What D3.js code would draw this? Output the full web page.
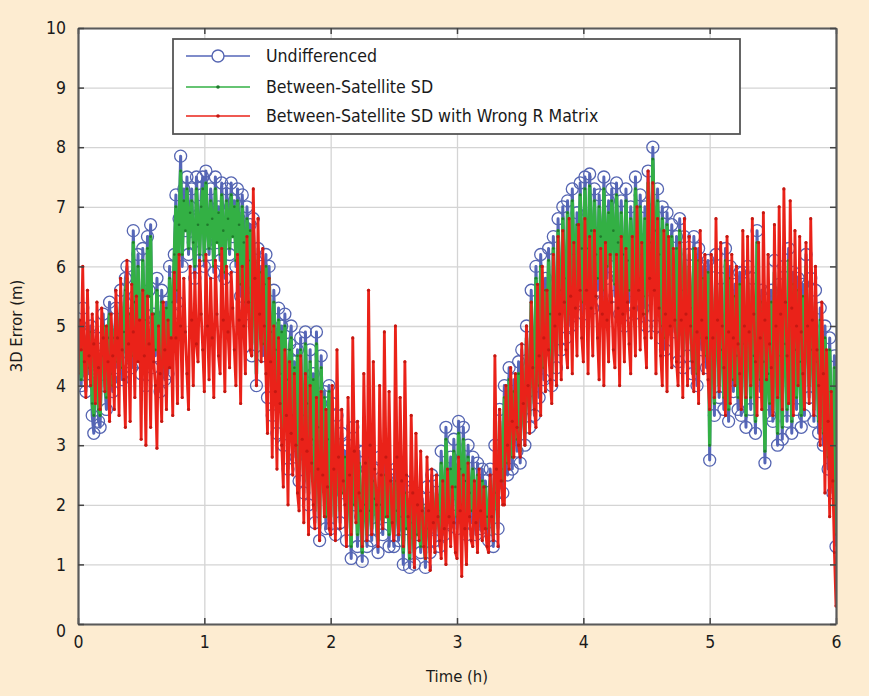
<!doctype html>
<html>
<head>
    <title>3D Error</title>
    <script src='https://d3js.org/d3.v7.min.js'></script>
    <style>
        body { margin: 0; background: #fdecd1; }
        text { font-family: "DejaVu Sans Condensed", "DejaVu Sans", sans-serif; fill: #1a1a1a; }
    </style>
</head>
<body>
<svg></svg>
<script>

    // samples are evenly spread over the 6 hours
    var timeSpan = 6;
    var xTicks = [0, 1, 2, 3, 4, 5, 6];
    var yTicks = [0, 1, 2, 3, 4, 5, 6, 7, 8, 9, 10];
    var seriesNames = ['Undifferenced', 'Between-Satellite SD', 'Between-Satellite SD with Wrong R Matrix'];

    // Undifferenced 3D error (m), one row = 1/8 h
    var undiff = [
        4.3, 4.8, 4.0, 5.3, 4.4, 3.9, 4.9, 4.2, 5.0, 3.5,
        3.2, 4.1, 4.8, 3.4, 3.3, 4.5, 5.2, 4.0, 3.6, 4.9,
        5.4, 4.1, 3.9, 4.8, 5.3, 4.3, 4.6, 5.6, 4.1, 4.9,
        5.8, 6.0, 4.4, 5.2, 4.3, 6.6, 5.5, 4.4, 6.2, 5.0,
        4.2, 6.3, 5.1, 4.0, 6.5, 5.6, 6.7, 4.3, 5.2, 4.5,
        5.8, 4.8, 3.9, 5.6, 4.6, 4.1, 5.4, 4.2, 6.0, 4.7,
        5.2, 6.2, 7.2, 5.4, 6.8, 7.85, 6.0, 7.3, 6.6, 7.5,
        6.2, 7.0, 7.3, 6.4, 5.8, 7.5, 6.8, 6.1, 7.2, 7.5,
        6.0, 7.6, 6.7, 6.2, 7.3, 6.9, 5.9, 7.5, 6.4, 7.0,
        6.1, 7.4, 6.6, 5.8, 7.3, 6.9, 6.2, 7.4, 6.5, 7.1,
        6.0, 7.3, 6.8, 5.5, 7.2, 6.5, 5.2, 7.0, 6.2, 6.7,
        4.5, 6.8, 5.6, 4.0, 6.3, 5.2, 6.0, 4.5, 5.8, 6.2,
        3.8, 6.0, 4.9, 3.5, 5.6, 4.6, 3.2, 5.3, 4.2, 5.0,
        3.0, 5.2, 4.1, 2.6, 4.7, 5.0, 3.4, 4.4, 2.8, 4.6,
        2.4, 4.8, 3.5, 2.2, 4.9, 3.8, 2.0, 4.6, 3.1, 4.2,
        1.7, 4.9, 3.4, 1.4, 4.5, 2.8, 3.9, 1.6, 3.2, 4.0,
        1.6, 3.7, 2.5, 1.5, 3.5, 2.8, 1.7, 3.2, 2.2, 2.9,
        1.4, 3.0, 2.4, 1.1, 3.3, 2.0, 2.6, 1.3, 2.9, 1.8,
        1.05, 2.9, 2.1, 1.3, 3.0, 1.9, 1.4, 2.6, 2.2, 1.6,
        1.2, 2.8, 2.0, 1.5, 2.7, 1.8, 2.4, 1.3, 2.5, 2.0,
        1.3, 2.6, 1.9, 1.4, 2.5, 1.8, 1.0, 2.4, 1.6, 2.0,
        0.95, 2.3, 1.7, 1.0, 2.2, 1.5, 1.9, 1.2, 2.1, 1.6,
        0.95, 2.3, 1.6, 1.2, 2.5, 1.8, 1.4, 2.4, 1.9, 1.3,
        2.9, 2.1, 1.5, 3.3, 2.4, 1.7, 2.8, 2.0, 3.1, 2.3,
        1.6, 3.4, 2.6, 1.8, 3.3, 2.4, 1.5, 3.0, 2.2, 1.7,
        2.8, 2.1, 1.5, 2.7, 2.0, 1.6, 2.6, 1.9, 2.4, 1.7,
        1.4, 2.6, 2.0, 1.3, 3.0, 2.2, 1.6, 3.6, 2.6, 2.2,
        4.0, 3.0, 2.5, 4.3, 3.3, 2.6, 4.1, 3.4, 2.9, 4.4,
        2.7, 4.6, 3.6, 3.0, 5.0, 3.9, 3.3, 5.6, 4.3, 3.5,
        6.0, 4.8, 3.8, 6.2, 5.0, 4.1, 5.8, 4.6, 6.3, 5.2,
        4.0, 6.5, 5.3, 4.3, 6.8, 5.6, 4.6, 7.0, 5.8, 4.8,
        7.1, 6.0, 5.0, 7.3, 6.2, 5.4, 6.9, 5.8, 7.4, 6.3,
        5.2, 7.5, 6.3, 5.5, 7.55, 6.6, 5.3, 7.3, 6.2, 5.6,
        7.2, 6.5, 5.4, 7.5, 6.4, 5.8, 7.1, 6.0, 7.3, 6.6,
        5.5, 7.4, 6.4, 5.2, 7.1, 6.2, 5.0, 7.3, 6.0, 5.4,
        7.0, 6.3, 5.2, 7.5, 6.5, 5.6, 7.2, 6.1, 5.3, 7.0,
        5.0, 7.6, 6.4, 5.6, 8.0, 6.6, 5.0, 7.3, 6.2, 4.8,
        7.0, 6.0, 4.6, 6.9, 5.8, 5.1, 6.7, 5.6, 4.9, 6.5,
        4.4, 6.8, 5.6, 4.3, 6.5, 5.4, 4.5, 6.2, 5.3, 4.2,
        6.5, 5.5, 4.0, 6.3, 5.2, 4.6, 6.0, 5.0, 4.3, 6.1,
        2.75, 6.0, 4.8, 3.5, 6.2, 5.0, 3.8, 5.8, 4.6, 3.6,
        6.3, 5.1, 3.4, 6.0, 4.8, 3.9, 5.7, 4.5, 3.6, 5.9,
        3.5, 5.9, 4.7, 3.3, 6.0, 4.8, 3.6, 5.8, 4.5, 3.2,
        6.6, 5.0, 3.9, 5.6, 4.4, 2.7, 5.2, 4.2, 3.5, 5.6,
        3.4, 6.1, 4.8, 3.0, 5.7, 4.5, 3.1, 6.0, 4.7, 3.4,
        6.3, 5.0, 3.2, 5.9, 4.6, 3.6, 5.8, 4.4, 3.3, 5.7,
        3.5, 6.2, 4.9, 3.8, 5.8, 4.6, 3.4, 5.6, 4.4, 3.2,
        5.3, 4.2, 3.0, 5.0, 3.8, 2.6, 4.8, 3.4, 2.2, 4.5,
        1.3
    ];

    // Between-satellite single difference
    var sd = [
        4.4, 4.7, 4.1, 5.1, 4.5, 4.0, 4.8, 4.3, 4.9, 3.7,
        3.5, 4.2, 4.7, 3.6, 3.5, 4.5, 5.0, 4.1, 3.8, 4.8,
        5.2, 4.2, 4.0, 4.8, 5.1, 4.4, 4.7, 5.4, 4.3, 4.9,
        5.6, 5.8, 4.5, 5.2, 4.5, 6.4, 5.4, 4.6, 6.0, 5.0,
        4.4, 6.1, 5.1, 4.2, 6.3, 5.5, 6.5, 4.5, 5.2, 4.6,
        5.6, 4.8, 4.1, 5.4, 4.6, 4.3, 5.3, 4.4, 5.8, 4.8,
        5.4, 6.2, 7.0, 5.6, 6.7, 7.6, 6.2, 7.1, 6.6, 7.3,
        6.3, 6.9, 7.1, 6.4, 6.0, 7.3, 6.7, 6.2, 7.0, 7.3,
        6.1, 7.4, 6.7, 6.3, 7.1, 6.8, 6.0, 7.3, 6.4, 6.9,
        6.2, 7.2, 6.6, 5.9, 7.1, 6.8, 6.3, 7.2, 6.5, 7.0,
        6.1, 7.1, 6.7, 5.7, 7.0, 6.4, 5.4, 6.8, 6.1, 6.6,
        4.7, 6.6, 5.6, 4.2, 6.1, 5.2, 5.9, 4.7, 5.7, 6.0,
        4.0, 5.8, 4.9, 3.7, 5.4, 4.6, 3.4, 5.1, 4.2, 4.9,
        3.2, 5.0, 4.1, 2.8, 4.6, 4.8, 3.5, 4.3, 3.0, 4.5,
        2.6, 4.6, 3.5, 2.4, 4.7, 3.7, 2.2, 4.4, 3.1, 4.1,
        1.9, 4.7, 3.3, 1.6, 4.3, 2.8, 3.8, 1.8, 3.1, 3.9,
        1.8, 3.5, 2.5, 1.7, 3.3, 2.7, 1.9, 3.0, 2.2, 2.8,
        1.6, 2.8, 2.3, 1.3, 3.1, 2.0, 2.5, 1.5, 2.7, 1.9,
        1.2, 2.7, 2.0, 1.5, 2.8, 1.9, 1.6, 2.4, 2.1, 1.7,
        1.4, 2.6, 2.0, 1.7, 2.5, 1.8, 2.3, 1.5, 2.4, 2.0,
        1.5, 2.4, 1.9, 1.6, 2.3, 1.8, 1.2, 2.2, 1.6, 1.9,
        1.1, 2.1, 1.7, 1.2, 2.0, 1.5, 1.8, 1.3, 2.0, 1.6,
        1.1, 2.1, 1.6, 1.4, 2.3, 1.8, 1.6, 2.2, 1.9, 1.5,
        2.7, 2.1, 1.7, 3.1, 2.4, 1.9, 2.6, 2.0, 2.9, 2.3,
        1.8, 3.2, 2.6, 2.0, 3.1, 2.4, 1.7, 2.8, 2.2, 1.9,
        2.6, 2.1, 1.7, 2.5, 2.0, 1.8, 2.4, 1.9, 2.3, 1.8,
        1.6, 2.4, 2.0, 1.5, 2.8, 2.2, 1.8, 3.4, 2.6, 2.4,
        3.8, 3.0, 2.7, 4.1, 3.3, 2.8, 3.9, 3.4, 3.1, 4.2,
        2.9, 4.4, 3.6, 3.2, 4.8, 3.9, 3.5, 5.4, 4.3, 3.7,
        5.8, 4.8, 4.0, 6.0, 5.0, 4.3, 5.6, 4.6, 6.1, 5.2,
        4.2, 6.3, 5.3, 4.5, 6.6, 5.6, 4.8, 6.8, 5.8, 5.0,
        6.9, 6.0, 5.2, 7.1, 6.2, 5.6, 6.7, 5.9, 7.2, 6.3,
        5.4, 7.3, 6.3, 5.7, 7.35, 6.6, 5.5, 7.1, 6.2, 5.8,
        7.0, 6.5, 5.6, 7.3, 6.4, 6.0, 6.9, 6.1, 7.1, 6.6,
        5.7, 7.2, 6.4, 5.4, 6.9, 6.2, 5.2, 7.1, 6.1, 5.6,
        6.8, 6.3, 5.4, 7.3, 6.5, 5.8, 7.0, 6.2, 5.5, 6.8,
        5.2, 7.4, 6.4, 5.8, 7.8, 6.6, 5.2, 7.1, 6.2, 5.0,
        6.8, 6.0, 4.8, 6.7, 5.8, 5.3, 6.5, 5.6, 5.1, 6.3,
        4.6, 6.6, 5.6, 4.5, 6.3, 5.4, 4.7, 6.0, 5.3, 4.4,
        6.3, 5.5, 4.2, 6.1, 5.2, 4.8, 5.8, 5.0, 4.5, 5.9,
        3.0, 5.8, 4.8, 3.7, 6.0, 5.0, 4.0, 5.6, 4.6, 3.8,
        6.1, 5.1, 3.6, 5.8, 4.8, 4.1, 5.5, 4.5, 3.8, 5.7,
        3.7, 5.7, 4.7, 3.5, 5.8, 4.8, 3.8, 5.6, 4.5, 3.4,
        6.4, 5.0, 4.1, 5.4, 4.4, 2.9, 5.0, 4.2, 3.7, 5.4,
        3.6, 5.9, 4.8, 3.2, 5.5, 4.5, 3.3, 5.8, 4.7, 3.6,
        6.1, 5.0, 3.4, 5.7, 4.6, 3.8, 5.6, 4.4, 3.5, 5.5,
        3.7, 6.0, 4.9, 4.0, 5.6, 4.6, 3.6, 5.4, 4.4, 3.4,
        5.1, 4.2, 3.2, 4.8, 3.8, 2.8, 4.6, 3.4, 2.4, 4.3,
        1.5
    ];

    // Between-satellite SD with wrong R matrix
    var sdWrongR = [
        4.2, 5.1, 4.6, 6.0, 4.4, 3.8, 5.6, 4.5, 4.0, 5.2,
        4.7, 3.7, 5.4, 4.3, 3.6, 5.3, 4.8, 3.9, 5.0, 4.4,
        3.4, 5.2, 4.5, 3.6, 5.6, 4.8, 3.5, 5.8, 4.6, 4.1,
        3.3, 6.1, 4.7, 3.4, 5.7, 4.9, 3.8, 5.5, 4.4, 5.1,
        3.1, 5.6, 4.5, 3.0, 5.5, 4.7, 3.3, 5.2, 4.4, 4.0,
        2.95, 5.0, 4.2, 3.4, 5.4, 4.6, 3.6, 5.1, 4.3, 4.8,
        3.5, 5.9, 4.8, 3.7, 6.2, 5.0, 3.8, 5.8, 4.9, 4.2,
        3.6, 6.0, 5.1, 4.0, 5.9, 4.7, 4.4, 6.1, 5.2, 4.6,
        3.9, 6.2, 5.0, 4.1, 5.8, 4.8, 3.8, 6.1, 5.2, 4.5,
        4.2, 6.3, 5.1, 3.9, 6.0, 4.9, 4.3, 5.9, 5.3, 4.6,
        4.0, 6.2, 5.1, 3.7, 6.0, 5.0, 4.2, 6.5, 5.4, 4.6,
        4.5, 7.3, 5.8, 4.0, 6.8, 5.2, 4.4, 6.3, 5.0, 4.2,
        3.2, 5.8, 4.4, 2.8, 5.0, 3.9, 2.6, 4.8, 3.7, 3.0,
        2.3, 4.6, 3.5, 2.0, 4.4, 3.2, 2.5, 4.2, 3.0, 2.2,
        1.9, 4.5, 3.1, 1.7, 4.2, 2.9, 1.5, 4.0, 2.7, 2.0,
        1.6, 3.8, 2.6, 1.4, 3.9, 2.5, 1.8, 3.6, 2.3, 1.6,
        1.5, 4.0, 2.6, 1.4, 4.6, 2.8, 1.6, 3.6, 2.4, 2.0,
        1.3, 3.8, 2.5, 1.5, 4.8, 2.9, 1.7, 3.4, 2.2, 1.9,
        1.3, 4.2, 2.7, 1.4, 5.6, 3.0, 1.5, 4.4, 2.6, 2.0,
        1.3, 4.0, 2.5, 1.6, 4.9, 2.8, 1.8, 3.9, 2.4, 1.7,
        1.4, 5.0, 2.8, 1.5, 3.8, 2.4, 1.3, 4.4, 2.5, 1.8,
        1.2, 3.5, 2.2, 0.95, 3.2, 2.0, 1.4, 2.9, 1.9, 1.3,
        1.1, 2.8, 1.9, 0.9, 2.6, 1.7, 1.2, 2.5, 1.8, 1.4,
        1.1, 2.4, 1.6, 1.0, 2.6, 1.8, 1.3, 2.3, 1.7, 1.2,
        1.1, 2.8, 1.9, 0.8, 2.5, 1.6, 1.0, 2.7, 1.8, 1.4,
        1.3, 2.4, 1.7, 1.2, 2.6, 1.9, 1.4, 2.3, 1.6, 1.3,
        1.2, 2.5, 1.8, 1.4, 4.5, 2.6, 1.3, 3.6, 2.4, 2.0,
        2.0, 4.0, 3.0, 2.6, 4.3, 3.4, 2.8, 4.2, 3.3, 3.0,
        2.8, 4.7, 3.7, 3.0, 5.0, 4.0, 3.2, 5.4, 4.3, 3.6,
        3.3, 5.7, 4.5, 3.5, 6.0, 4.8, 3.9, 5.6, 4.6, 4.1,
        3.7, 6.2, 5.0, 4.0, 6.5, 5.2, 4.1, 6.6, 5.4, 4.6,
        4.3, 6.8, 5.5, 4.2, 6.4, 5.3, 4.5, 6.7, 5.6, 4.8,
        4.4, 6.8, 5.6, 4.2, 6.5, 5.3, 4.5, 6.6, 5.5, 4.8,
        4.1, 6.3, 5.2, 4.0, 6.4, 5.1, 4.4, 6.2, 5.4, 4.6,
        4.3, 6.2, 5.3, 4.0, 6.5, 5.2, 4.4, 6.3, 5.4, 4.7,
        4.2, 6.5, 5.3, 4.5, 7.0, 5.6, 4.6, 6.4, 5.2, 4.8,
        4.3, 7.6, 5.8, 4.8, 7.4, 5.6, 4.2, 6.8, 5.3, 4.5,
        4.0, 6.6, 5.2, 3.9, 6.5, 5.0, 4.3, 6.3, 5.1, 4.4,
        4.0, 6.4, 5.1, 3.8, 6.8, 5.2, 4.0, 6.5, 5.0, 4.4,
        3.9, 6.3, 4.9, 3.7, 6.6, 5.1, 4.2, 6.2, 4.8, 4.1,
        3.6, 6.2, 4.8, 3.8, 6.8, 5.1, 3.9, 6.4, 5.0, 4.3,
        3.5, 6.5, 4.9, 3.7, 6.2, 4.8, 4.0, 6.0, 4.7, 4.2,
        3.6, 6.6, 5.0, 3.8, 6.5, 4.9, 4.0, 6.8, 5.2, 4.4,
        3.5, 6.4, 4.8, 3.6, 6.9, 5.1, 4.1, 6.2, 4.7, 4.3,
        3.5, 6.7, 5.0, 3.8, 7.0, 5.2, 3.6, 7.3, 5.4, 4.5,
        3.7, 7.1, 5.3, 3.5, 6.6, 5.0, 4.0, 6.5, 4.9, 4.2,
        3.6, 6.4, 5.0, 3.7, 6.8, 5.1, 3.5, 6.0, 4.6, 4.0,
        3.0, 5.4, 4.2, 2.2, 4.6, 3.4, 1.8, 3.9, 2.4, 1.2,
        0.3
    ];

    var svgWidth = 869, svgHeight = 696;
    var margin = {left: 78, top: 28, right: 33, bottom: 72};
    var width = svgWidth - margin.left - margin.right;
    var height = svgHeight - margin.top - margin.bottom;

    var svg = d3.select('svg')
        .attr('width', svgWidth)
        .attr('height', svgHeight);

    var xScale = d3.scaleLinear().domain([0, 6]).range([0, width]);
    var yScale = d3.scaleLinear().domain([0, 10]).range([height, 0]);

    function timeOf(series, i) { return i * timeSpan / (series.length - 1); }

    var g = svg.append('g')
        .attr('transform', 'translate(' + margin.left + ',' + margin.top + ')');

    g.append('rect')
        .attr('width', width)
        .attr('height', height)
        .attr('fill', '#fff');

    // grid
    g.append('g')
        .attr('class', 'grid')
        .attr('transform', 'translate(0,' + height + ')')
        .call(d3.axisBottom(xScale).tickValues(xTicks).tickSize(-height).tickFormat(''));
    g.append('g')
        .attr('class', 'grid')
        .call(d3.axisLeft(yScale).tickValues(yTicks).tickSize(-width).tickFormat(''));
    g.selectAll('.grid .domain').remove();
    g.selectAll('.grid line').attr('stroke', '#d4d4d4').attr('stroke-width', 1.3);

    g.append('clipPath').attr('id', 'plotclip')
        .append('rect').attr('width', width).attr('height', height);

    var plot = g.append('g').attr('clip-path', 'url(#plotclip)');

    function drawSeries(series, cls, lineColor, lineWidth, r, markFill, markStroke) {
        var line = d3.line()
            .x(function (d, i) { return xScale(timeOf(series, i)); })
            .y(function (d) { return yScale(d); });
        plot.append('path')
            .datum(series)
            .attr('d', line)
            .attr('fill', 'none')
            .attr('stroke', lineColor)
            .attr('stroke-width', lineWidth)
            .attr('stroke-linejoin', 'round');
        plot.selectAll('.' + cls)
            .data(series)
            .enter()
            .append('circle')
            .attr('class', cls)
            .attr('cx', function (d, i) { return xScale(timeOf(series, i)); })
            .attr('cy', function (d) { return yScale(d); })
            .attr('r', r)
            .attr('fill', markFill)
            .attr('stroke', markStroke)
            .attr('stroke-width', 1.3);
    }

    drawSeries(undiff, 'c-undiff', '#5566b8', 3, 6, 'none', '#5565b2');
    drawSeries(sd, 'c-sd', '#33b044', 3.4, 1.3, '#1f7a2c', 'none');
    drawSeries(sdWrongR, 'c-wr', '#ea2219', 2.8, 1.6, '#c41812', 'none');

    // inward ticks on all four sides
    var tickLen = 6;
    var fmt = d3.format('d');
    var xb = g.append('g').attr('transform', 'translate(0,' + height + ')')
        .call(d3.axisBottom(xScale).tickValues(xTicks).tickFormat(fmt).tickSizeInner(-tickLen).tickSizeOuter(0).tickPadding(12));
    var xt = g.append('g')
        .call(d3.axisTop(xScale).tickValues(xTicks).tickSizeInner(-tickLen).tickSizeOuter(0).tickFormat(''));
    var yl = g.append('g')
        .call(d3.axisLeft(yScale).tickValues(yTicks).tickFormat(fmt).tickSizeInner(-tickLen).tickSizeOuter(0).tickPadding(12));
    var yr = g.append('g').attr('transform', 'translate(' + width + ',0)')
        .call(d3.axisRight(yScale).tickValues(yTicks).tickSizeInner(-tickLen).tickSizeOuter(0).tickFormat(''));

    [xb, xt, yl, yr].forEach(function (a) {
        a.select('.domain').attr('stroke', '#5a5a5a').attr('stroke-width', 2.2);
        a.selectAll('.tick line').attr('stroke', '#444').attr('stroke-width', 1.5);
        a.selectAll('text')
            .attr('font-size', 17.5)
            .attr('fill', '#1a1a1a')
            .style('font-family', '"DejaVu Sans Condensed", sans-serif');
    });
    yl.selectAll('text').attr('dy', function (d) { return d === 0 ? '0.7em' : '0.32em'; });

    // axis labels
    svg.append('text')
        .attr('x', margin.left + width / 2)
        .attr('y', 682)
        .attr('text-anchor', 'middle')
        .attr('font-size', 16.5)
        .text('Time (h)');
    svg.append('text')
        .attr('transform', 'translate(22,' + (margin.top + height / 2) + ') rotate(-90)')
        .attr('text-anchor', 'middle')
        .attr('font-size', 16.5)
        .text('3D Error (m)');

    // legend
    var legend = svg.append('g').attr('transform', 'translate(173,39)');
    legend.append('rect')
        .attr('width', 567)
        .attr('height', 95)
        .attr('fill', '#fff')
        .attr('stroke', '#555')
        .attr('stroke-width', 1.8);

    var legendColors = ['#5566b8', '#33b044', '#ea2219'];
    var rows = [17, 48, 77];
    seriesNames.forEach(function (name, i) {
        legend.append('line')
            .attr('x1', 13).attr('x2', 77)
            .attr('y1', rows[i]).attr('y2', rows[i])
            .attr('stroke', legendColors[i])
            .attr('stroke-width', 1.6);
        if (i === 0) {
            legend.append('circle')
                .attr('cx', 45).attr('cy', rows[i]).attr('r', 6)
                .attr('fill', '#fff').attr('stroke', '#5565b2').attr('stroke-width', 1.4);
        } else {
            legend.append('circle')
                .attr('cx', 45).attr('cy', rows[i]).attr('r', 1.8)
                .attr('fill', i === 1 ? '#1f7a2c' : '#c41812');
        }
        legend.append('text')
            .attr('x', 93)
            .attr('y', rows[i])
            .attr('dy', '0.35em')
            .attr('font-size', 17.6)
            .text(name);
    });

</script>
</body>
</html>
